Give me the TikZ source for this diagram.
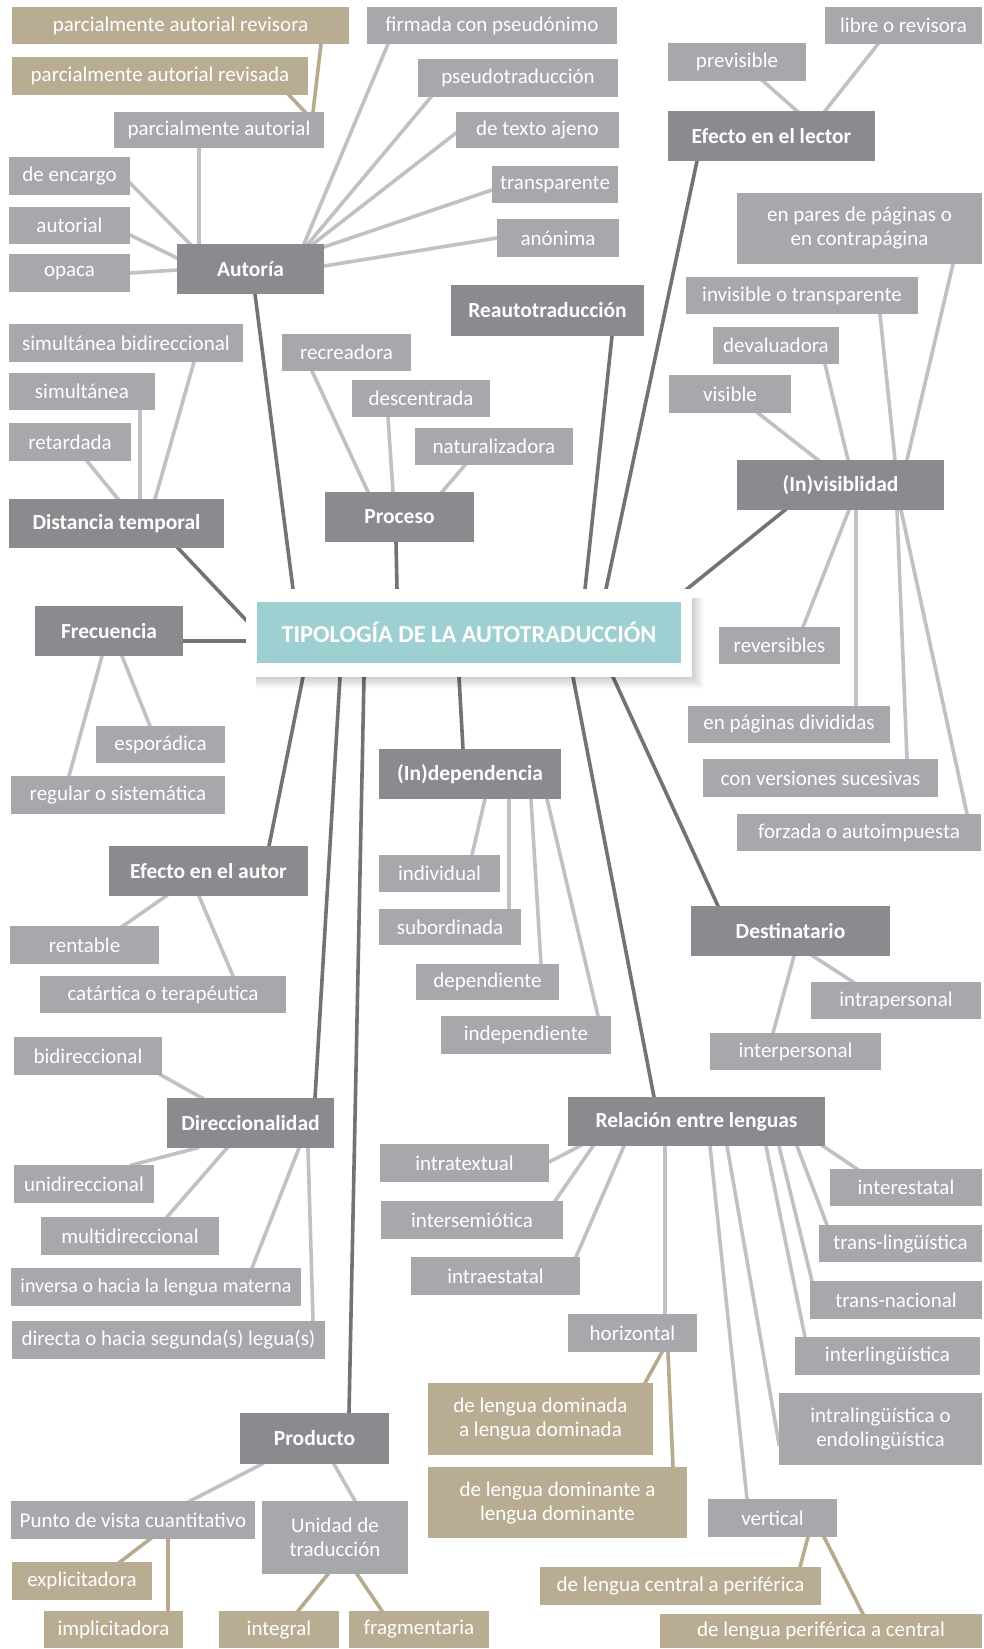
\documentclass[tikz,border=0pt]{standalone}
\usepackage{fontspec}
\setmainfont{Carlito}
\usetikzlibrary{calc}
\definecolor{lg}{HTML}{A6A8AB}
\definecolor{dg}{HTML}{8A8B8F}
\definecolor{tn}{HTML}{B8AD93}
\definecolor{teal}{HTML}{9ED0D1}
\definecolor{lline}{HTML}{C0C1C4}
\definecolor{dline}{HTML}{727376}
\definecolor{tline}{HTML}{B7AB8E}
\pgfdeclarelayer{bg}\pgfsetlayers{bg,main}
\newcommand\bx[7]{\node[#6,minimum width={#4-#2},minimum height={#5-#3}] (#1) at ({(#2+#4)/2},{(#3+#5)/2}) {#7};}
\newcommand\lk[5]{\draw[#1] ($(#2.north west)+(#3)$) -- ($(#4.north west)+(#5)$);}
\tikzset{
  base/.style={inner sep=0pt, outer sep=0pt, text=white, align=center, font=\fontsize{21}{24}\selectfont},
  g/.style={base, fill=lg},
  d/.style={base, fill=dg, font=\fontsize{21.5}{24}\selectfont\bfseries},
  t/.style={base, fill=tn},
  lt/.style={draw=lline, line width=3.6pt, shorten <=-2pt, shorten >=-2pt},
  dk/.style={draw=dline, line width=3.6pt, shorten <=-2pt, shorten >=-2pt},
  tl/.style={draw=tline, line width=3.6pt, shorten <=-2pt, shorten >=-2pt},
}
\begin{document}
\begin{tikzpicture}[x=1pt,y=-1pt]
\begin{pgfonlayer}{bg}
\fill[white] (0,0) rectangle (984,1649);
\end{pgfonlayer}
\useasboundingbox (0,0) rectangle (984,1649);
% Autoria
\bx{rev}{12}{7}{349}{44}{t}{parcialmente autorial revisora}
\bx{rvd}{12}{57}{308}{95}{t}{parcialmente autorial revisada}
\bx{pa}{114}{112}{324}{148}{g}{parcialmente autorial}
\bx{enc}{9}{157}{130}{195}{g}{de encargo}
\bx{aut}{9}{207}{130}{244}{g}{autorial}
\bx{opa}{9}{254}{130}{292}{g}{opaca}
\bx{AUT}{177}{244}{324}{294}{d}{Autoría}
\bx{fir}{367}{7}{617}{44}{g}{firmada con pseudónimo}
\bx{pse}{418}{59}{618}{97}{g}{pseudotraducción}
\bx{tex}{456}{112}{619}{148}{g}{de texto ajeno}
\bx{tra}{492}{166}{618}{203}{g}{transparente}
\bx{ano}{497}{219}{619}{257}{g}{anónima}
\bx{REA}{451}{285}{644}{336}{d}{Reautotraducción}
% lector
\bx{lib}{825}{7}{982}{44}{g}{libre o revisora}
\bx{pre}{668}{43}{806}{81}{g}{previsible}
\bx{LEC}{668}{111}{875}{161}{d}{Efecto en el lector}
% invisibilidad
\bx{par}{737}{193}{982}{264}{g}{en pares de páginas o\\en contrapágina}
\bx{inv}{686}{277}{918}{314}{g}{invisible o transparente}
\bx{dev}{713}{327}{839}{364}{g}{devaluadora}
\bx{vis}{669}{375}{791}{413}{g}{visible}
\bx{INV}{737}{460}{944}{510}{d}{(In)visiblidad}
\bx{rvb}{719}{627}{840}{664}{g}{reversibles}
\bx{pdv}{688}{706}{890}{743}{g}{en páginas divididas}
\bx{ver}{703}{759}{938}{797}{g}{con versiones sucesivas}
\bx{for}{737}{814}{981}{851}{g}{forzada o autoimpuesta}
% distancia
\bx{sbd}{9}{324}{243}{362}{g}{simultánea bidireccional}
\bx{sim}{9}{373}{155}{410}{g}{simultánea}
\bx{ret}{9}{423}{131}{461}{g}{retardada}
\bx{DIS}{9}{499}{224}{548}{d}{Distancia temporal}
% proceso
\bx{rec}{282}{334}{411}{371}{g}{recreadora}
\bx{des}{352}{380}{490}{417}{g}{descentrada}
\bx{nat}{415}{428}{573}{465}{g}{naturalizadora}
\bx{PRO}{325}{492}{474}{542}{d}{Proceso}
% center
\foreach \i in {1,...,12}
  \fill[black,opacity=0.016] (256,598) rectangle ({692+\i},{677+\i});
\bx{ctr}{246}{589}{692}{677}{base,fill=white}{}
\bx{ttl}{257}{602}{681}{663}{base,fill=teal,font=\fontsize{24.4}{27}\selectfont\bfseries}{TIPOLOGÍA DE LA AUTOTRADUCCIÓN}
% frecuencia
\bx{FRE}{35}{606}{183}{656}{d}{Frecuencia}
\bx{esp}{96}{726}{225}{763}{g}{esporádica}
\bx{reg}{11}{776}{225}{814}{g}{regular o sistemática}
% autor
\bx{AUTR}{109}{846}{308}{896}{d}{Efecto en el autor}
\bx{ren}{10}{926}{159}{964}{g}{rentable}
\bx{cat}{40}{976}{286}{1013}{g}{catártica o terapéutica}
% independencia
\bx{IND}{379}{749}{561}{799}{d}{(In)dependencia}
\bx{indv}{379}{855}{500}{892}{g}{individual}
\bx{sub}{379}{909}{521}{945}{g}{subordinada}
\bx{dep}{416}{964}{559}{1000}{g}{dependiente}
\bx{idp}{441}{1016}{611}{1054}{g}{independiente}
% destinatario
\bx{DES}{691}{906}{890}{956}{d}{Destinatario}
\bx{itra}{811}{982}{981}{1019}{g}{intrapersonal}
\bx{iter}{710}{1033}{881}{1070}{g}{interpersonal}
% direccionalidad
\bx{bid}{14}{1037}{162}{1075}{g}{bidireccional}
\bx{DIR}{167}{1098}{334}{1148}{d}{Direccionalidad}
\bx{uni}{14}{1165}{154}{1203}{g}{unidireccional}
\bx{mul}{41}{1217}{219}{1255}{g}{multidireccional}
\bx{ivs}{11}{1268}{301}{1306}{g,font=\fontsize{20}{24}\selectfont}{inversa o hacia la lengua materna}
\bx{dir}{12}{1321}{325}{1359}{g}{directa o hacia segunda(s) legua(s)}
% producto
\bx{PRD}{240}{1413}{389}{1464}{d}{Producto}
\bx{pvc}{11}{1501}{255}{1539}{g}{Punto de vista cuantitativo}
\bx{udt}{262}{1501}{408}{1574}{g}{Unidad de\\traducción}
\bx{exp}{12}{1562}{152}{1600}{t}{explicitadora}
\bx{imp}{44}{1611}{183}{1648}{t}{implicitadora}
\bx{itg}{219}{1611}{339}{1648}{t}{integral}
\bx{fra}{349}{1611}{489}{1648}{t}{fragmentaria}
% relacion
\bx{REL}{568}{1097}{825}{1146}{d}{Relación entre lenguas}
\bx{itx}{380}{1144}{549}{1182}{g}{intratextual}
\bx{ism}{381}{1201}{563}{1239}{g}{intersemiótica}
\bx{ies}{411}{1257}{580}{1295}{g}{intraestatal}
\bx{hor}{568}{1314}{697}{1352}{g}{horizontal}
\bx{ldd}{428}{1383}{653}{1455}{t}{de lengua dominada\\a lengua dominada}
\bx{ldn}{428}{1467}{687}{1538}{t}{de lengua dominante a\\lengua dominante}
\bx{vrt}{708}{1499}{837}{1537}{g}{vertical}
\bx{lcp}{540}{1567}{821}{1605}{t}{de lengua central a periférica}
\bx{lpc}{660}{1614}{982}{1648}{t}{de lengua periférica a central}
\bx{iest}{830}{1169}{982}{1206}{g}{interestatal}
\bx{tli}{819}{1225}{982}{1262}{g}{trans-lingüística}
\bx{tna}{810}{1281}{982}{1319}{g}{trans-nacional}
\bx{ili}{795}{1337}{980}{1375}{g}{interlingüística}
\bx{itl}{779}{1393}{982}{1465}{g}{intralingüística o\\endolingüística}
\begin{pgfonlayer}{bg}
\lk{tl}{pa}{199,0}{rev}{309,37}
\lk{tl}{pa}{191,0}{rvd}{277,38}
\lk{lt}{AUT}{22,0}{pa}{85,36}
\lk{lt}{AUT}{13,0}{enc}{121,26}
\lk{lt}{AUT}{0,14}{aut}{121,28}
\lk{lt}{AUT}{0,26}{opa}{121,19}
\lk{lt}{AUT}{127,0}{fir}{21,37}
\lk{lt}{AUT}{131,0}{pse}{13,38}
\lk{lt}{AUT}{136,0}{tex}{0,21}
\lk{lt}{AUT}{147,3}{tra}{0,24}
\lk{lt}{AUT}{147,22}{ano}{0,19}
\lk{dk}{ctr}{47,0}{AUT}{78,50}
\lk{dk}{ctr}{339,0}{REA}{161,51}
\lk{dk}{ctr}{360,0}{LEC}{29,50}
\lk{lt}{LEC}{129,0}{pre}{95,38}
\lk{lt}{LEC}{157,0}{lib}{53,37}
\lk{dk}{ctr}{441,0}{INV}{48,50}
\lk{lt}{INV}{170,0}{par}{216,71}
\lk{lt}{INV}{158,0}{inv}{194,37}
\lk{lt}{INV}{111,0}{dev}{112,37}
\lk{lt}{INV}{81,0}{vis}{89,38}
\lk{lt}{INV}{112,50}{rvb}{84,0}
\lk{lt}{INV}{119,50}{pdv}{168,0}
\lk{lt}{INV}{160,50}{ver}{204,0}
\lk{lt}{INV}{164,50}{for}{230,0}
\lk{lt}{DIS}{146,0}{sbd}{185,38}
\lk{lt}{DIS}{131,0}{sim}{131,37}
\lk{lt}{DIS}{109,0}{ret}{78,38}
\lk{dk}{ctr}{0,31}{DIS}{169,49}
\lk{lt}{PRO}{43,0}{rec}{30,37}
\lk{lt}{PRO}{68,0}{des}{36,37}
\lk{lt}{PRO}{117,0}{nat}{50,37}
\lk{dk}{ctr}{151,0}{PRO}{71,50}
\lk{dk}{ctr}{0,52}{FRE}{148,35}
\lk{lt}{FRE}{87,50}{esp}{54,0}
\lk{lt}{FRE}{67,50}{reg}{58,0}
\lk{dk}{ctr}{57,88}{AUTR}{160,0}
\lk{lt}{AUTR}{57,50}{ren}{113,0}
\lk{lt}{AUTR}{90,50}{cat}{193,0}
\lk{dk}{ctr}{94,88}{DIR}{148,0}
\lk{lt}{DIR}{35,0}{bid}{147,38}
\lk{lt}{DIR}{30,50}{uni}{118,0}
\lk{lt}{DIR}{60,50}{mul}{126,0}
\lk{lt}{DIR}{132,50}{ivs}{241,0}
\lk{lt}{DIR}{141,50}{dir}{301,0}
\lk{dk}{ctr}{118,88}{PRD}{109,0}
\lk{lt}{PRD}{22,51}{pvc}{179,0}
\lk{lt}{PRD}{94,51}{udt}{93,0}
\lk{tl}{pvc}{139,38}{exp}{108,0}
\lk{tl}{pvc}{157,38}{imp}{124,0}
\lk{tl}{udt}{66,73}{itg}{79,0}
\lk{tl}{udt}{95,73}{fra}{33,0}
\lk{dk}{ctr}{213,88}{IND}{84,0}
\lk{lt}{IND}{106,50}{indv}{93,0}
\lk{lt}{IND}{130,50}{sub}{130,0}
\lk{lt}{IND}{152,50}{dep}{125,0}
\lk{lt}{IND}{168,50}{idp}{157,0}
\lk{dk}{ctr}{367,88}{DES}{27,0}
\lk{lt}{DES}{122,50}{itra}{42,0}
\lk{lt}{DES}{103,50}{iter}{63,0}
\lk{dk}{ctr}{327,88}{REL}{86,0}
\lk{lt}{REL}{12,49}{itx}{169,18}
\lk{lt}{REL}{25,49}{ism}{174,0}
\lk{lt}{REL}{56,49}{ies}{165,0}
\lk{lt}{REL}{97,49}{hor}{97,0}
\lk{lt}{REL}{255,49}{iest}{27,0}
\lk{lt}{REL}{229,49}{tli}{8,0}
\lk{lt}{REL}{211,49}{tna}{2,0}
\lk{lt}{REL}{198,49}{ili}{10,0}
\lk{lt}{REL}{159,49}{itl}{0,51}
\lk{lt}{REL}{142,49}{vrt}{39,0}
\lk{tl}{hor}{94,38}{ldd}{217,0}
\lk{tl}{hor}{100,38}{ldn}{245,0}
\lk{tl}{vrt}{100,38}{lcp}{260,0}
\lk{tl}{vrt}{116,38}{lpc}{203,0}
\end{pgfonlayer}
\end{tikzpicture}
\end{document}
